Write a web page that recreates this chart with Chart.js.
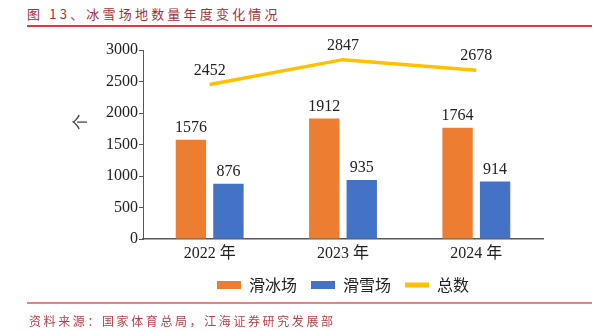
<!DOCTYPE html>
<html>
<head>
<meta charset="utf-8">
<script src="https://cdn.jsdelivr.net/npm/chart.js@4/dist/chart.umd.min.js"></script>
<style>
  html, body { margin: 0; padding: 0; background: #fff; }
  body { width: 599px; height: 331px; position: relative; overflow: hidden; }
  .title {
    position: absolute; left: 27px; top: 4px;
    font: 13px "Noto Sans CJK SC", sans-serif; letter-spacing: 3.2px;
    color: #a3323a; line-height: 20px; white-space: nowrap;
  }
  .rule-top { position: absolute; left: 27px; top: 25px; width: 565px; height: 2px; background: #dc3b3b; }
  .rule-bottom { position: absolute; left: 27px; top: 302px; width: 565px; height: 2px; background: #e58484; }
  .source {
    position: absolute; left: 29px; top: 312px;
    font: 12px "Noto Sans CJK SC", sans-serif; letter-spacing: 2.6px;
    color: #b8404a; line-height: 18px; white-space: nowrap;
  }
  .chart-box { position: absolute; left: 0; top: 30px; width: 599px; height: 280px; }
</style>
</head>
<body>
<div class="title">图 13、冰雪场地数量年度变化情况</div>
<div class="rule-top"></div>
<div class="chart-box"><canvas id="rinkChart" width="599" height="280"></canvas></div>
<div class="rule-bottom"></div>
<div class="source">资料来源：国家体育总局，江海证券研究发展部</div>

<script>
// 冰雪场地数量（个）
const years = ['2022 年', '2023 年', '2024 年'];
const iceRinks = [1576, 1912, 1764];
const snowFields = [876, 935, 914];
const totals = [2452, 2847, 2678];
const yTicks = [0, 500, 1000, 1500, 2000, 2500, 3000];

const SERIF = '"Liberation Serif", "Noto Sans CJK SC", serif';

// value labels above bars and line points
const valueLabels = {
    id: 'valueLabels',
    afterDatasetsDraw(chart) {
        const ctx = chart.ctx;
        ctx.save();
        ctx.font = '16px ' + SERIF;
        ctx.fillStyle = '#222';
        ctx.textAlign = 'center';
        ctx.textBaseline = 'middle';
        chart.data.datasets.forEach((ds, i) => {
            const meta = chart.getDatasetMeta(i);
            const gap = ds.type === 'line' ? 14 : 12;
            meta.data.forEach((el, j) => {
                ctx.fillText(String(ds.data[j]), el.x, el.y - gap);
            });
        });
        ctx.restore();
    }
};

// unit label "个", rotated, left of the y axis
const unitLabel = {
    id: 'unitLabel',
    afterDraw(chart) {
        const ctx = chart.ctx;
        const area = chart.chartArea;
        ctx.save();
        ctx.translate(area.left - 63, area.top + 72);
        ctx.rotate(-Math.PI / 2);
        ctx.font = '16px "Noto Sans CJK SC", sans-serif';
        ctx.fillStyle = '#444';
        ctx.textAlign = 'center';
        ctx.textBaseline = 'middle';
        ctx.fillText('个', 0, 0);
        ctx.restore();
    }
};

const ctx = document.getElementById('rinkChart').getContext('2d');
new Chart(ctx, {
    type: 'bar',
    data: {
        labels: years,
        datasets: [
            {
                label: '滑冰场',
                data: iceRinks,
                backgroundColor: '#ed7d31',
                categoryPercentage: 0.5625,
                barPercentage: 0.81
            },
            {
                label: '滑雪场',
                data: snowFields,
                backgroundColor: '#4472c4',
                categoryPercentage: 0.5625,
                barPercentage: 0.81
            },
            {
                type: 'line',
                label: '总数',
                data: totals,
                borderColor: '#ffc000',
                backgroundColor: '#ffc000',
                borderWidth: 3.5,
                pointRadius: 0,
                tension: 0
            }
        ]
    },
    options: {
        responsive: false,
        animation: false,
        layout: { padding: { top: 20, right: 56, left: 0, bottom: 7 } },
        plugins: {
            tooltip: { enabled: false },
            legend: {
                position: 'bottom',
                fullSize: false,  // centre the legend under the plot area
                labels: {
                    usePointStyle: true,
                    pointStyleWidth: 24,
                    boxHeight: 8,
                    padding: 14,
                    color: '#222',
                    font: { size: 16, family: '"Noto Sans CJK SC", sans-serif' },
                    generateLabels(chart) {
                        const items = Chart.defaults.plugins.legend.labels.generateLabels(chart);
                        return items.map(item => {
                            const isLine = chart.data.datasets[item.datasetIndex].type === 'line';
                            item.pointStyle = isLine ? 'line' : 'rect';
                            item.lineWidth = isLine ? 5 : 0;
                            return item;
                        });
                    }
                }
            }
        },
        scales: {
            x: {
                grid: { display: false, drawTicks: false },
                border: { display: true, color: '#595959', width: 1.5 },
                ticks: { color: '#222', padding: 5, font: { size: 16, family: SERIF } },
                afterFit(scale) { scale.height = 24; }
            },
            y: {
                min: 0,
                max: 3000,
                afterBuildTicks(scale) { scale.ticks = yTicks.map(v => ({ value: v })); },
                grid: { display: true, drawOnChartArea: false, drawTicks: true, tickLength: 4, color: '#595959' },
                border: { display: true, color: '#595959', width: 1 },
                ticks: {
                    color: '#222',
                    padding: 1,
                    font: { size: 16, family: SERIF },
                    callback: v => String(v)
                },
                afterFit(scale) { scale.width = 143; }
            }
        }
    },
    plugins: [valueLabels, unitLabel]
});
</script>
</body>
</html>
